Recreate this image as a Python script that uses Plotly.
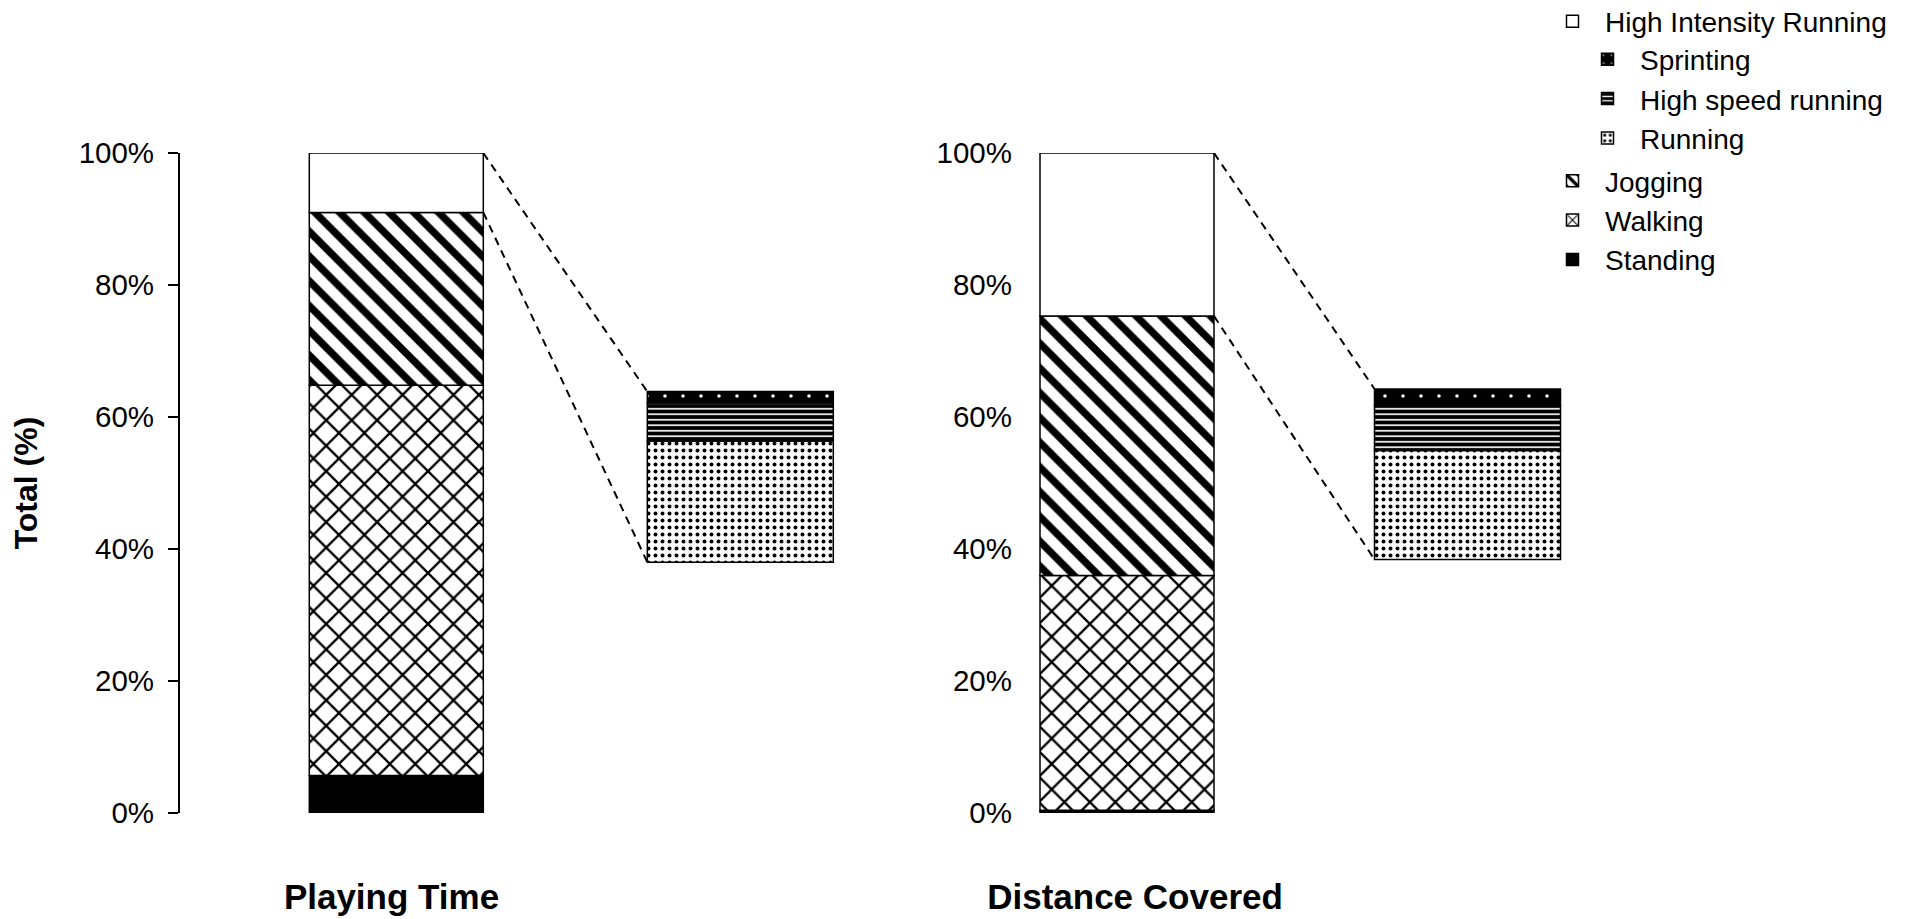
import plotly.graph_objects as go

# ---------------- data ----------------
panels = ["Playing Time", "Distance Covered"]

main_segments = ["Standing", "Walking", "Jogging", "High Intensity Running"]
standing = [5.7, 0.4]
walking = [59.1, 35.6]
jogging = [26.2, 39.3]
high_intensity = [9.0, 24.7]

hir_segments = ["Running", "High speed running", "Sprinting"]
running = [6.4, 15.8]
high_speed_running = [2.0, 6.5]
sprinting = [0.6, 2.4]

y_ticks = [0, 20, 40, 60, 80, 100]
y_tick_labels = [f"{t}%" for t in y_ticks]

# ---------------- layout constants (page pixels) ----------------
W, H = 1908, 919          # browser window
OFF = 8                    # default body margin of the html page
FIG_W, FIG_H = W - OFF, H - OFF
FONT = "Liberation Sans, Arial, sans-serif"
MAIN_X = [396.3, 1127.0]
ZOOM_X = [740.3, 1467.5]
MAIN_W = 174
ZOOM_W = 186
ZOOM_BASE = [38.0, 38.4]
ZOOM_HEIGHT = 25.85
LABEL_X = [391.5, 1135.0]
Y_ZERO_PX, Y_FULL_PX = 813.5, 153.3
AXIS1_PX, AXIS2_PX = 179, 1040


def cx(px):  # page px -> container fraction (x)
    return (px - OFF) / FIG_W


def cy(py):  # page px -> container fraction (y)
    return 1 - (py - OFF) / FIG_H


LINE = dict(color="black", width=1.5)
STYLES = {
    "Standing": dict(color="black"),
    "Walking": dict(color="white", pattern=dict(shape="x", fgcolor="black", bgcolor="white",
                                                size=18, solidity=0.24, fillmode="replace")),
    "Jogging": dict(color="white", pattern=dict(shape="\\", fgcolor="black", bgcolor="white",
                                                size=17.5, solidity=0.42, fillmode="replace")),
    "High Intensity Running": dict(color="white"),
    "Running": dict(color="white", pattern=dict(shape=".", fgcolor="black", bgcolor="white",
                                                size=7, solidity=0.25, fillmode="replace")),
    "High speed running": dict(color="black", pattern=dict(shape="-", fgcolor="white", bgcolor="black",
                                                           size=5.5, solidity=0.3, fillmode="replace")),
    "Sprinting": dict(color="black", pattern=dict(shape=".", fgcolor="white", bgcolor="black",
                                                  size=18, solidity=0.03, fillmode="replace")),
}
LEGEND_OF = {"High Intensity Running": "legend",
             "Sprinting": "legend2", "High speed running": "legend2", "Running": "legend2",
             "Jogging": "legend3", "Walking": "legend3", "Standing": "legend3"}
RANK = {"High Intensity Running": 1, "Sprinting": 1, "High speed running": 2, "Running": 3,
        "Jogging": 1, "Walking": 2, "Standing": 3}

fig = go.Figure()

# main stacked bars
main_values = dict(zip(main_segments, [standing, walking, jogging, high_intensity]))
cum = [0.0, 0.0]
hir_bottom = None
for name in main_segments:
    vals = main_values[name]
    if name == "High Intensity Running":
        hir_bottom = list(cum)
    fig.add_trace(go.Bar(
        x=MAIN_X, y=vals, base=list(cum), width=MAIN_W, name=name,
        marker=dict(line=LINE, **STYLES[name]),
        legend=LEGEND_OF[name], legendrank=RANK[name], hoverinfo="skip",
    ))
    cum = [c + v for c, v in zip(cum, vals)]
main_top = cum

# zoomed HIR breakdown bars
hir_values = dict(zip(hir_segments, [running, high_speed_running, sprinting]))
hir_total = [sum(v) for v in zip(running, high_speed_running, sprinting)]
scale = [ZOOM_HEIGHT / t for t in hir_total]
zcum = list(ZOOM_BASE)
for name in hir_segments:
    vals = [v * s for v, s in zip(hir_values[name], scale)]
    fig.add_trace(go.Bar(
        x=ZOOM_X, y=vals, base=list(zcum), width=ZOOM_W, name=name,
        marker=dict(line=LINE, **STYLES[name]),
        legend=LEGEND_OF[name], legendrank=RANK[name], hoverinfo="skip",
    ))
    zcum = [c + v for c, v in zip(zcum, vals)]

# dashed connectors
for i in range(len(panels)):
    x0 = MAIN_X[i] + MAIN_W / 2
    x1 = ZOOM_X[i] - ZOOM_W / 2
    for y0, y1 in [(main_top[i], zcum[i]), (hir_bottom[i], ZOOM_BASE[i])]:
        fig.add_trace(go.Scatter(x=[x0, x1], y=[y0, y1], mode="lines",
                                 line=dict(color="black", width=2, dash="8px,6px"),
                                 showlegend=False, hoverinfo="skip"))

legend_common = dict(font=dict(family=FONT, size=28, color="black"), bgcolor="rgba(0,0,0,0)",
                     borderwidth=0, xref="container", yref="container", xanchor="left",
                     yanchor="middle", itemwidth=55, tracegroupgap=0, traceorder="normal")

fig.update_layout(
    template="none",
    width=FIG_W, height=FIG_H,
    margin=dict(l=0, r=0, t=Y_FULL_PX - OFF, b=H - Y_ZERO_PX, pad=0, autoexpand=False),
    paper_bgcolor="white", plot_bgcolor="white",
    barmode="overlay",
    font=dict(family=FONT, color="black"),
    xaxis=dict(range=[OFF, W], domain=[0, 1], showgrid=False, zeroline=False, showline=False,
               ticks="", tickvals=LABEL_X, ticktext=[f"<b>{p}</b>" for p in panels],
               tickfont=dict(family=FONT, size=35, color="black"), ticklabelstandoff=60,
               automargin=False, fixedrange=True),
    yaxis=dict(range=[0, 100], domain=[0, 1], anchor="free", position=cx(AXIS1_PX), side="left",
               showline=True, linecolor="black", linewidth=2, ticks="outside", ticklen=10,
               tickwidth=2, tickcolor="black", tickvals=y_ticks, ticktext=y_tick_labels,
               tickfont=dict(family=FONT, size=29.5, color="black"), ticklabelstandoff=8,
               showgrid=False, zeroline=False, automargin=False, fixedrange=True,
               title=dict(text="<b>Total (%)</b>", font=dict(family=FONT, size=32, color="black"),
                          standoff=54)),
    yaxis2=dict(range=[0, 100], overlaying="y", anchor="free", position=cx(AXIS2_PX), side="left",
                showline=False, ticks="", tickvals=y_ticks, ticktext=y_tick_labels,
                tickfont=dict(family=FONT, size=29.5, color="black"), ticklabelstandoff=28,
                showgrid=False, zeroline=False, automargin=False, fixedrange=True),
    legend=dict(x=cx(1540), y=cy(21.5), **legend_common),
    legend2=dict(x=cx(1575), y=cy(99), **legend_common),
    legend3=dict(x=cx(1540), y=cy(220.5), **legend_common),
    showlegend=True,
)
# helper so that the second value axis renders its tick labels
fig.add_trace(go.Scatter(x=[MAIN_X[1]], y=[0], yaxis="y2", mode="markers",
                         marker=dict(opacity=0), showlegend=False, hoverinfo="skip"))

fig.write_html("out.html")
